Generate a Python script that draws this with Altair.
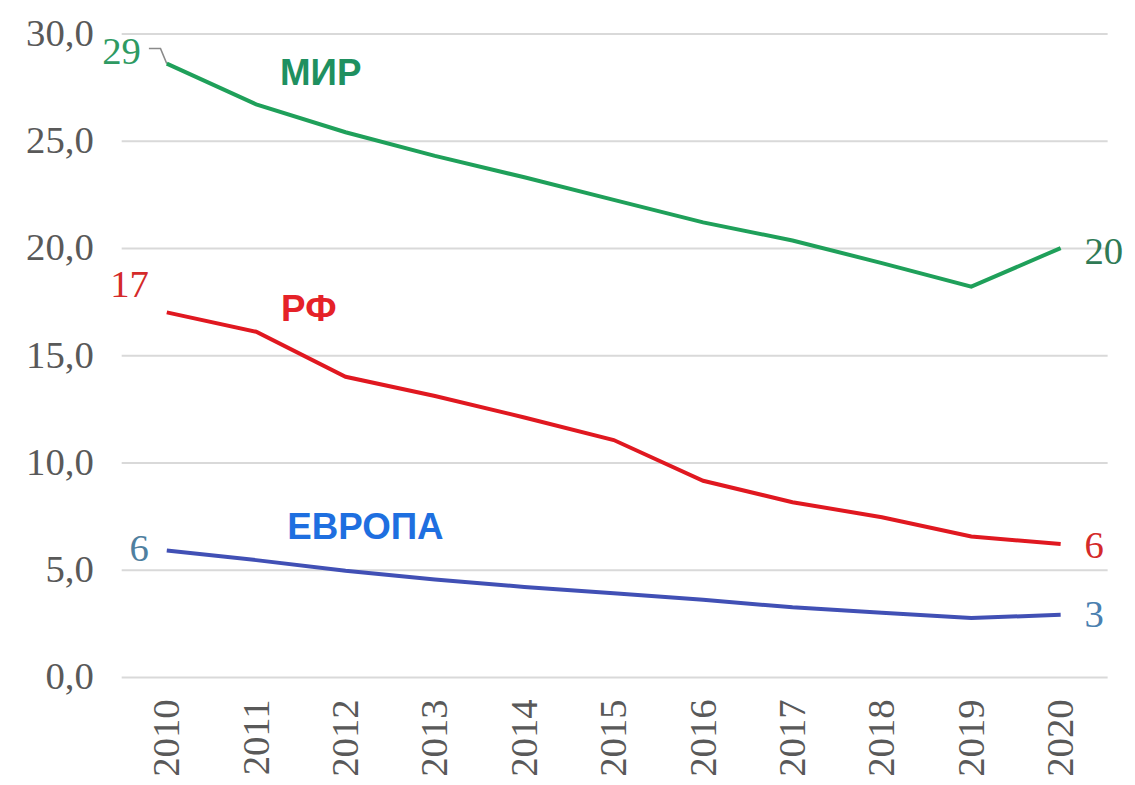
import altair as alt
import pandas as pd

years = list(range(2010, 2021))
mir = [28.6, 26.7, 25.4, 24.3, 23.3, 22.25, 21.2, 20.35, 19.3, 18.2, 20.0]
rf = [17.0, 16.1, 14.0, 13.1, 12.1, 11.05, 9.15, 8.15, 7.45, 6.55, 6.2]
europe = [5.9, 5.45, 4.95, 4.55, 4.2, 3.9, 3.6, 3.25, 3.0, 2.75, 2.9]

series_names = ["МИР", "РФ", "ЕВРОПА"]
line_colors = ["#1fa05a", "#e01820", "#4150b5"]
name_colors = ["#1f9060", "#e52228", "#1e6fe0"]
start_labels = ["29", "17", "6"]
end_labels = ["20", "6", "3"]
start_label_colors = ["#2e9a62", "#d42a2a", "#4f7f9f"]
end_label_colors = ["#2f7a55", "#d42a2a", "#4a80b0"]
y_ticks = [0, 5, 10, 15, 20, 25, 30]

# leader line from the "29" label to the start of the МИР line
leader_year = [2009.8, 2009.93, 2010]
leader_value = [29.3, 29.3, 28.6]

values = [mir, rf, europe]
rows = []
for name, vals in zip(series_names, values):
    for yr, v in zip(years, vals):
        rows.append({"year": yr, "value": v, "series": name})
df = pd.DataFrame(rows)

x_scale = alt.Scale(domain=[2009.49, 2020.52], nice=False, zero=False)
y_scale = alt.Scale(domain=[0, 30], nice=False)

FS = 39

x_axis = alt.Axis(values=years, format="d", labelAngle=-90, grid=False, ticks=False,
                  domain=False, labelPadding=22, labelFontSize=FS,
                  labelFont="Liberation Serif", labelColor="#595959", title=None)
y_axis = alt.Axis(values=y_ticks, labelExpr="replace(format(datum.value, '.1f'), '.', ',')",
                  grid=True, gridColor="#d9d9d9", gridWidth=2, ticks=False, domain=False,
                  labelPadding=28, labelFontSize=FS, labelFont="Liberation Serif",
                  labelColor="#595959", title=None)

lines = alt.Chart(df).mark_line(strokeWidth=4).encode(
    x=alt.X("year:Q", scale=x_scale, axis=x_axis),
    y=alt.Y("value:Q", scale=y_scale, axis=y_axis),
    color=alt.Color("series:N", scale=alt.Scale(domain=series_names, range=line_colors), legend=None),
    detail="series:N",
)

leader = alt.Chart(pd.DataFrame({"year": leader_year, "value": leader_value, "o": [0, 1, 2]})).mark_line(
    strokeWidth=1.5, color="#8a8a8a").encode(
    x=alt.X("year:Q", scale=x_scale), y=alt.Y("value:Q", scale=y_scale), order="o:Q")

layers = [leader, lines]

# value labels at the start and end of every series
start_offsets = [(-26, -12), (-18, -28), (-18, -1)]
end_offsets = [(24, 4), (24, 2), (24, 0)]
for i, name in enumerate(series_names):
    d0 = pd.DataFrame({"year": [years[0]], "value": [values[i][0]], "t": [start_labels[i]]})
    d1 = pd.DataFrame({"year": [years[-1]], "value": [values[i][-1]], "t": [end_labels[i]]})
    layers.append(alt.Chart(d0).mark_text(
        align="right", baseline="middle", dx=start_offsets[i][0], dy=start_offsets[i][1],
        fontSize=FS, font="Liberation Serif", color=start_label_colors[i]).encode(
        x=alt.X("year:Q", scale=x_scale), y=alt.Y("value:Q", scale=y_scale), text="t:N"))
    layers.append(alt.Chart(d1).mark_text(
        align="left", baseline="middle", dx=end_offsets[i][0], dy=end_offsets[i][1],
        fontSize=FS, font="Liberation Serif", color=end_label_colors[i]).encode(
        x=alt.X("year:Q", scale=x_scale), y=alt.Y("value:Q", scale=y_scale), text="t:N"))

# series names, anchored to the 2011 point of each series
name_offsets = [(65, -31), (53, -22), (110, -32)]
for i, name in enumerate(series_names):
    d = pd.DataFrame({"year": [years[1]], "value": [values[i][1]], "t": [name]})
    layers.append(alt.Chart(d).mark_text(
        align="center", baseline="middle", dx=name_offsets[i][0], dy=name_offsets[i][1],
        fontSize=37, font="Liberation Sans", fontWeight="bold", color=name_colors[i]).encode(
        x=alt.X("year:Q", scale=x_scale), y=alt.Y("value:Q", scale=y_scale), text="t:N"))

chart = alt.layer(*layers).properties(
    width=993, height=648,
    autosize=alt.AutoSizeParams(type="none"),
    padding={"left": 114, "top": 23, "right": 20, "bottom": 106},
).configure_view(stroke=None)

chart.save("out.html", embed_options={"renderer": "svg", "actions": False})
